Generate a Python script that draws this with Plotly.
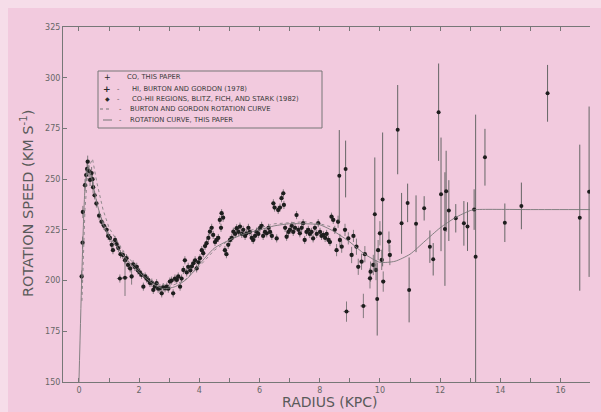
import plotly.graph_objects as go

# ---- CO, this paper (radius kpc, speed km/s, error) ----
co_r = [0.09, 0.12, 0.13, 0.20, 0.24, 0.27, 0.29, 0.33, 0.37, 0.42, 0.45, 0.47, 0.52, 0.58, 0.67,
        0.75, 0.83, 0.92, 0.97, 1.03, 1.09, 1.13, 1.20, 1.25, 1.31, 1.38, 1.46, 1.53, 1.58, 1.63,
        1.70, 1.75, 1.80, 1.86, 1.92, 1.96, 2.02, 2.08, 2.14, 2.20, 2.25, 2.30, 2.36, 2.42, 2.47,
        2.52, 2.58, 2.63, 2.69, 2.75, 2.80, 2.86, 2.92, 2.97, 3.02, 3.08, 3.13, 3.19, 3.25, 3.30,
        3.36, 3.41, 3.47, 3.52, 3.58, 3.63, 3.70, 3.75, 3.80, 3.86, 3.91, 3.97, 4.02, 4.08, 4.13,
        4.19, 4.24, 4.30, 4.35, 4.41, 4.46, 4.52, 4.57, 4.63, 4.68, 4.72, 4.74, 4.79, 4.85, 4.90,
        4.96, 5.02, 5.08, 5.13, 5.19, 5.24, 5.30, 5.35, 5.41, 5.46, 5.52, 5.57, 5.63, 5.68, 5.74,
        5.79, 5.85, 5.90, 5.96, 6.01, 6.07, 6.12, 6.18, 6.24, 6.30, 6.35, 6.41, 6.46, 6.50, 6.57,
        6.62, 6.68, 6.73, 6.79, 6.81, 6.85, 6.90, 6.96, 7.01, 7.07, 7.12, 7.18, 7.23, 7.29, 7.34,
        7.40, 7.45, 7.50, 7.56, 7.62, 7.67, 7.73, 7.78, 7.84, 7.90, 7.95, 8.01, 8.06, 8.12, 8.18,
        8.23, 8.29, 8.34, 8.39, 8.45, 8.50, 8.56, 8.61, 8.67, 8.73, 8.84, 8.95, 9.06, 9.12, 9.22,
        9.28, 9.39, 9.50, 9.67, 9.69, 9.78, 9.87, 9.94, 10.00, 10.06, 10.11, 10.30, 10.33]
co_v = [202.0, 218.7, 233.8, 247.0, 252.0, 255.0, 258.6, 254.0, 249.6, 253.0, 250.0, 246.0, 242.0, 238.0, 232.0,
        229.0, 227.0, 225.0, 222.0, 221.0, 217.6, 215.0, 220.0, 218.0, 216.0, 213.0, 212.6, 210.0, 211.0, 207.7,
        206.0, 202.0, 208.0, 206.7, 206.8, 205.0, 204.0, 202.8, 197.0, 202.0, 201.0, 200.3, 198.8, 199.0, 195.4,
        197.0, 198.7, 196.0, 196.2, 193.7, 196.8, 196.2, 197.0, 196.0, 199.5, 200.0, 193.7, 201.0, 200.3, 202.0,
        197.0, 201.0, 205.2, 210.0, 204.0, 206.8, 205.0, 207.0, 208.5, 210.0, 206.0, 209.0, 211.0, 215.0, 213.5,
        217.0, 218.4, 221.0, 224.1, 226.0, 222.5, 219.0, 220.0, 221.0, 229.9, 226.0, 233.2, 231.0, 215.0, 213.0,
        217.6, 220.0, 221.0, 224.1, 223.0, 225.8, 224.0, 226.6, 223.0, 225.0, 222.0, 223.3, 226.0, 224.0, 221.0,
        220.0, 222.0, 224.1, 223.0, 225.8, 227.0, 222.0, 224.0, 223.3, 226.0, 224.0, 222.0, 238.1, 236.0, 220.8,
        234.8, 236.0, 240.6, 243.0, 237.3, 226.0, 221.6, 224.0, 225.0, 227.0, 224.0, 226.0, 232.3, 225.0, 223.3,
        226.0, 228.3, 220.0, 224.0, 225.0, 223.0, 224.0, 220.8, 226.0, 223.0, 228.3, 224.0, 222.0, 222.5, 221.0,
        223.0, 220.0, 219.0, 231.5, 229.9, 225.0, 215.0, 229.0, 220.0, 216.7, 225.0, 220.8, 212.6, 222.0, 216.7,
        206.8, 209.3, 213.0, 201.1, 204.4, 207.7, 205.2, 215.0, 223.3, 210.2, 199.5, 219.2, 212.6]
co_err = [3, 3, 3, 3, 3, 3, 3, 3, 3, 3, 3, 3, 2, 2, 2,
          2, 2, 2, 2, 2, 2, 2, 2, 2, 2, 2, 2, 2, 2, 2,
          2, 4, 2, 2, 2, 2, 2, 2, 2, 2, 2, 2, 2, 2, 2,
          2, 2, 2, 2, 2, 2, 2, 2, 2, 2, 2, 2, 2, 2, 2,
          2, 2, 2, 2, 2, 2, 2, 2, 2, 2, 2, 2, 2, 2, 2,
          2, 2, 2, 2, 2, 2, 2, 2, 2, 2, 2, 2, 2, 2, 2,
          2, 2, 2, 2, 2, 2, 2, 2, 2, 2, 2, 2, 2, 2, 2,
          2, 2, 2, 2, 2, 2, 2, 2, 2, 2, 2, 2, 2, 2, 2,
          2, 2, 2, 2, 2, 2, 2, 2, 2, 2, 2, 2, 2, 2, 2,
          2, 2, 2, 2, 2, 2, 2, 2, 2, 2, 2, 2, 2, 2, 2,
          2, 2, 2, 2, 2, 2, 3, 3, 3, 3, 3, 3, 4, 3, 4,
          4, 4, 4, 5, 5, 5, 5, 5, 6, 5, 5, 5, 5]

# ---- HI, Burton and Gordon (1978) ----
hi_r = [1.36, 1.53, 8.89, 9.45]
hi_v = [201.0, 201.4, 184.7, 187.5]
hi_err = [2, 9, 5, 6]

# ---- CO-HII regions, Blitz, Fich and Stark (1982) ----
hii_r = [8.65, 8.86, 9.83, 9.91, 10.09, 10.59, 10.72, 10.92, 10.97, 11.20, 11.47, 11.66, 11.77,
         11.95, 12.03, 12.16, 12.20, 12.29, 12.52, 12.79, 12.91, 13.13, 13.18, 13.49, 14.15,
         14.70, 15.57, 16.64, 16.95]
hii_v = [251.7, 255.0, 232.7, 190.9, 240.0, 274.4, 228.2, 238.3, 195.4, 228.0, 235.6, 216.7, 210.5,
         283.0, 242.5, 225.4, 244.0, 234.5, 230.7, 228.2, 226.6, 235.0, 211.8, 260.8, 228.5,
         236.8, 292.3, 231.0, 243.8]
hii_err = [22.5, 14, 28, 18, 33, 22, 15, 9.5, 16, 14, 6, 8, 8,
           24, 28, 28, 20, 15, 7, 11, 12, 10, 70, 14, 9.5,
           11.5, 14, 36, 42]

# ---- Burton and Gordon rotation curve ----
bg_r = [0.10, 0.20, 0.30, 0.45, 0.60, 0.80, 1.00, 1.50, 2.00, 2.50, 3.00, 3.50, 4.00, 4.50,
        5.00, 5.50, 6.00, 6.50, 7.00, 7.50, 8.00, 8.50]
bg_v = [190, 235, 255, 260, 248, 235, 226, 214, 205, 199, 197, 200, 207, 215,
        220, 224, 226, 228, 228.5, 229, 228, 226]

# ---- Rotation curve, this paper ----
rc_r = [0.00, 0.10, 0.20, 0.30, 0.40, 0.60, 0.80, 1.00, 1.50, 2.00, 2.50, 2.80, 3.20, 3.60,
        4.00, 4.50, 5.00, 5.50, 6.00, 6.50, 7.00, 7.50, 8.00, 8.50, 9.00, 9.50, 10.00, 10.50,
        11.00, 11.50, 12.00, 12.50, 13.00, 13.20, 15.00, 17.00]
rc_v = [150, 205, 245, 256, 252, 238, 228, 222, 212, 204, 198, 196, 197, 201,
        208, 216, 220, 223, 225, 227, 228, 228, 227.5, 224, 219, 213, 209, 209.5,
        213, 219.5, 226, 231, 234.5, 235, 235, 235]

x_ticks = [0, 2, 4, 6, 8, 10, 12, 14, 16]
y_ticks = [150, 175, 200, 225, 250, 275, 300, 325]

legend_labels = ["CO, THIS PAPER",
                 "HI, BURTON AND GORDON (1978)",
                 "CO-HII REGIONS, BLITZ, FICH, AND STARK (1982)",
                 "BURTON AND GORDON ROTATION CURVE",
                 "ROTATION CURVE, THIS PAPER"]

PINK = "#f2cade"
EDGE = "#f6dde9"
GREY = "#666666"
LINE = "#777777"
DOT = "#1e1e1e"

# plot-area geometry (page pixels) used to place the hand-drawn legend
PL, PR, PT, PB = 63, 590, 27, 382


def px(xp):
    return (xp - PL) / (PR - PL)


def py(yp):
    return (PB - yp) / (PB - PT)


fig = go.Figure()

fig.add_trace(go.Scatter(
    x=co_r, y=co_v, mode="markers", name=legend_labels[0], showlegend=False,
    marker=dict(symbol="circle", size=4.3, color=DOT),
    error_y=dict(type="data", array=co_err, color=GREY, thickness=0.8, width=0),
    error_x=dict(type="constant", value=0.04, color=GREY, thickness=0.8, width=0),
))
fig.add_trace(go.Scatter(
    x=hi_r, y=hi_v, mode="markers", name=legend_labels[1], showlegend=False,
    marker=dict(symbol="circle", size=4, color=DOT),
    error_y=dict(type="data", array=hi_err, color=GREY, thickness=0.8, width=0),
    error_x=dict(type="constant", value=0.1, color=GREY, thickness=0.8, width=0),
))
fig.add_trace(go.Scatter(
    x=hii_r, y=hii_v, mode="markers", name=legend_labels[2], showlegend=False,
    marker=dict(symbol="circle", size=4, color=DOT),
    error_y=dict(type="data", array=hii_err, color=GREY, thickness=1, width=0),
))
fig.add_trace(go.Scatter(
    x=bg_r, y=bg_v, mode="lines", name=legend_labels[3], showlegend=False,
    line=dict(color=LINE, width=0.8, dash="dot"),
))
fig.add_trace(go.Scatter(
    x=rc_r, y=rc_v, mode="lines", name=legend_labels[4], showlegend=False,
    line=dict(color=LINE, width=0.9, shape="spline", smoothing=0.6),
))

# ---- hand-drawn legend box (as in the original figure) ----
row_y = [77, 89, 99, 109, 120]
label_x = [125, 130, 130, 128, 128]
shapes = [
    dict(type="rect", xref="paper", yref="paper", x0=px(98), x1=px(322), y0=py(128), y1=py(71),
         line=dict(color=LINE, width=1), fillcolor="rgba(0,0,0,0)"),
    dict(type="line", xref="paper", yref="paper", x0=px(100), x1=px(112), y0=py(row_y[3]), y1=py(row_y[3]),
         line=dict(color=LINE, width=1, dash="dot")),
    dict(type="line", xref="paper", yref="paper", x0=px(103), x1=px(112), y0=py(row_y[4]), y1=py(row_y[4]),
         line=dict(color=LINE, width=1)),
]
annotations = []
sym = ["+", "<b>+</b>", "\u25c6", "", ""]
sym_size = [8, 9, 6, 6, 6]
dash_x = [None, 118, 118, 120, 120]
for i, lab in enumerate(legend_labels):
    annotations.append(dict(text=lab, xref="paper", yref="paper", x=px(label_x[i]), y=py(row_y[i]),
                            xanchor="left", yanchor="middle", showarrow=False,
                            font=dict(size=6.8, color="#3a3a3a", family="DejaVu Sans")))
    if sym[i]:
        annotations.append(dict(text=sym[i], xref="paper", yref="paper", x=px(107), y=py(row_y[i]),
                                xanchor="center", yanchor="middle", showarrow=False,
                                font=dict(size=sym_size[i], color="#2a2a2a", family="DejaVu Sans")))
    if dash_x[i]:
        annotations.append(dict(text="-", xref="paper", yref="paper", x=px(dash_x[i]), y=py(row_y[i]),
                                xanchor="center", yanchor="middle", showarrow=False,
                                font=dict(size=6.5, color="#3a3a3a", family="DejaVu Sans")))

annotations += [
    dict(text="RADIUS (KPC)", xref="paper", yref="paper", x=px(330), y=py(402),
         xanchor="center", yanchor="middle", showarrow=False,
         font=dict(size=14, color="#5a5a5a", family="DejaVu Sans")),
    dict(text="ROTATION SPEED (KM S<sup>-1</sup>)", xref="paper", yref="paper",
         x=px(27), y=py(204), xanchor="center", yanchor="middle", textangle=-90, showarrow=False,
         font=dict(size=14.5, color="#5a5a5a", family="DejaVu Sans")),
]

fig.update_layout(
    width=593, height=404,
    paper_bgcolor=PINK, plot_bgcolor=PINK,
    margin=dict(l=55, r=11, t=19, b=30),
    font=dict(family="DejaVu Sans", color=GREY, size=8),
    showlegend=False,
    xaxis=dict(
        range=[-0.53, 16.98], tickvals=x_ticks, ticktext=[str(t) for t in x_ticks],
        showgrid=False, zeroline=False, showline=True, linecolor=LINE, linewidth=1,
        mirror="ticks", ticks="inside", ticklen=4, tickcolor=LINE,
        minor=dict(dtick=1, ticks="inside", ticklen=4, tickcolor=LINE),
        tickfont=dict(size=8, color=GREY),
    ),
    yaxis=dict(
        range=[150, 325], tickvals=y_ticks, ticktext=[str(t) for t in y_ticks],
        showgrid=False, zeroline=False, showline=True, linecolor=LINE, linewidth=1,
        ticks="inside", ticklen=4, tickcolor=LINE,
        tickfont=dict(size=8, color=GREY),
    ),
    shapes=shapes,
    annotations=annotations,
)

fig.write_html(
    "out.html",
    post_script="document.body.style.margin='8px 0 0 8px';"
                "document.body.style.background='" + EDGE + "';",
)
